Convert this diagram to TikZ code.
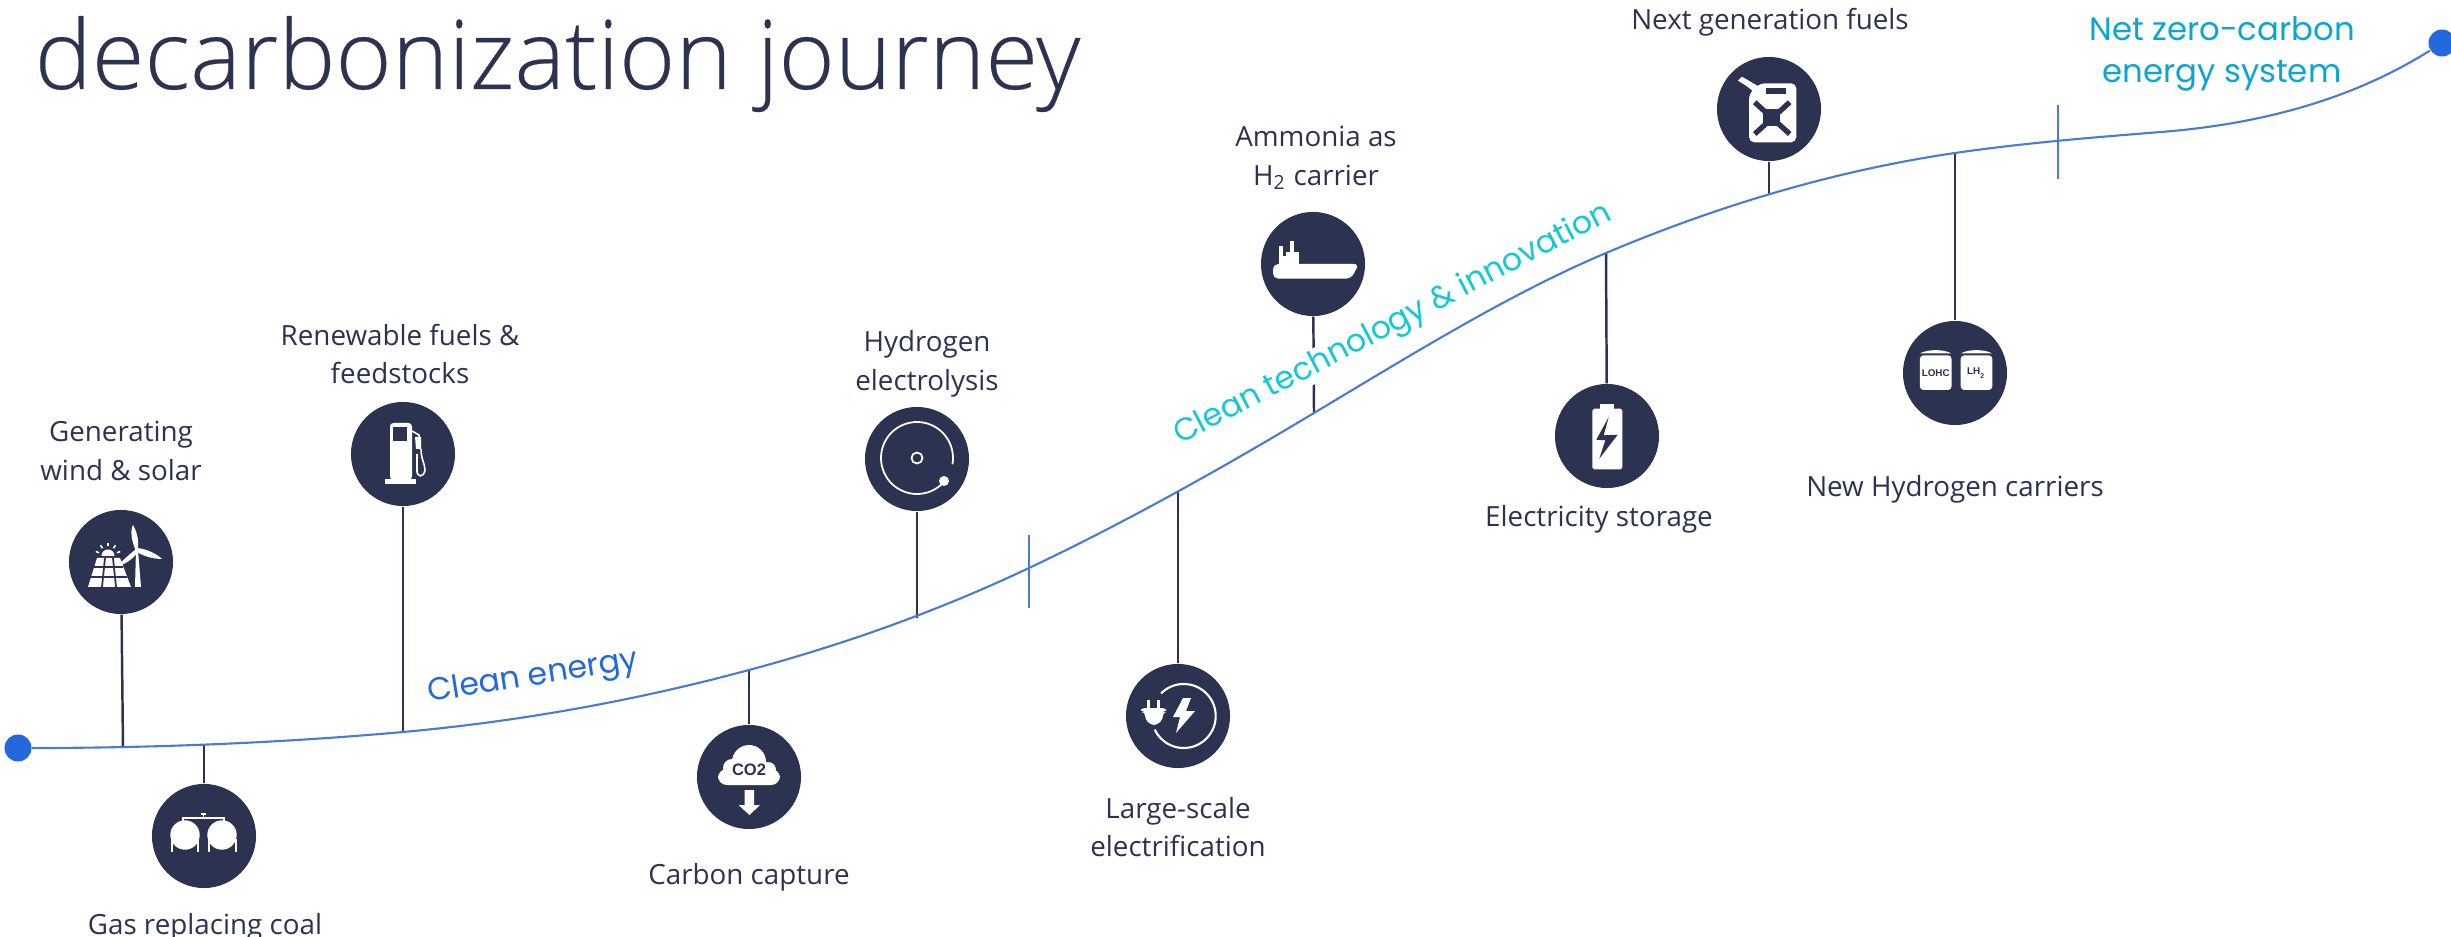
\documentclass[tikz,border=0pt]{standalone}
\usepackage{fontspec}
\setmainfont{Open Sans}
\setsansfont{Liberation Sans}
\newfontfamily\titlefont[FakeBold=0.25]{Open Sans Light}
\newfontfamily\phasefont{Poppins}
\definecolor{navy}{RGB}{43, 51, 80}
\definecolor{pathblue}{RGB}{74, 122, 214}
\definecolor{dotblue}{RGB}{36, 104, 222}
\definecolor{teal}{RGB}{20, 200, 212}
\definecolor{sky}{RGB}{10, 165, 213}

\begin{document}
\begin{tikzpicture}[x=0.01cm, y=-0.01cm,
    badge/.style={circle, fill=navy, minimum size=1.04cm, inner sep=0},
    endpoint/.style={circle, fill=dotblue, minimum size=0.27cm, inner sep=0},
    stem/.style={draw=navy, line width=0.7pt},
    tick/.style={draw=pathblue, line width=0.5pt},
    caption/.style={text=navy, align=center, inner sep=0, font=\fontsize{7.9}{11}\selectfont},
    phase/.style={inner sep=0, font=\phasefont\fontsize{9}{9}\selectfont},
    icontext/.style={text=navy, inner sep=0},
    whiteline/.style={draw=white, line width=0.45pt}]
  \useasboundingbox (0, 0) rectangle (2451, 937);

  % Title
  \node[text=navy, anchor=base west, inner sep=0, font=\titlefont\fontsize{27.3}{27.3}\selectfont] (title) at (34, 89) {decarbonization journey};

  % Points on the path
  \coordinate (footwind) at (123, 748);
  \coordinate (footgas) at (204, 744);
  \coordinate (footpump) at (403, 732);
  \coordinate (footco) at (749, 670);
  \coordinate (footelectrolysis) at (917, 618);
  \coordinate (phaseone) at (1029, 568);
  \coordinate (footplug) at (1178, 491);
  \coordinate (footship) at (1314, 413);
  \coordinate (footbattery) at (1606, 253);
  \coordinate (footcan) at (1769, 194);
  \coordinate (foottanks) at (1955, 153);
  \coordinate (phasetwo) at (2058, 140);
  \coordinate (plateau) at (2161, 132);

  % Badges
  \node[badge] (wind) at (121, 562) {};
  \node[badge] (gas) at (204, 836) {};
  \node[badge] (pump) at (403, 454) {};
  \node[badge] (co) at (749, 777) {};
  \node[badge] (electrolysis) at (917, 459) {};
  \node[badge] (plug) at (1178, 716) {};
  \node[badge] (ship) at (1313, 264) {};
  \node[badge] (battery) at (1607, 436) {};
  \node[badge] (can) at (1769, 109) {};
  \node[badge] (tanks) at (1955, 373) {};

  % Stems
  \foreach \i/\j in {wind/footwind, gas/footgas, pump/footpump, co/footco, electrolysis/footelectrolysis, plug/footplug, ship/footship, battery/footbattery, can/footcan, tanks/foottanks} {
    \draw[stem] (\i) -- (\j);
  }

  % Phases
  \node[phase, text=dotblue, rotate=9] (cleanenergy) at (533, 678) {Clean energy};
  \node[phase, text=teal, rotate=27.5, fill=white] (cleantech) at (1393, 325) {Clean technology \& innovation};
  \node[phase, text=sky, align=center, font=\phasefont\fontsize{9.2}{12}\selectfont] (netzero) at (2222, 54) {Net zero-carbon\\energy system};

  % The path
  \node[endpoint] (start) at (18, 748) {};
  \node[endpoint] (end) at (2442, 43) {};
  \draw[draw=pathblue, line width=0.6pt] (start)
    .. controls (146, 748) and (275, 743.5) .. (footpump)
    .. controls (518, 721.6) and (634, 701) .. (footco)
    .. controls (842, 645) and (936, 612) .. (phaseone)
    .. controls (1124, 523) and (1219, 470) .. (footship)
    .. controls (1411, 355) and (1509, 294) .. (footbattery)
    .. controls (1722, 204) and (1839, 170) .. (foottanks)
    .. controls (2024, 143) and (2092, 137.5) .. (plateau)
    .. controls (2255, 124.5) and (2348, 102) .. (end);

  % Ticks
  \coordinate (phaseonetop) at (1029, 535);
  \coordinate (phaseonebottom) at (1029, 608);
  \coordinate (phasetwotop) at (2058, 105);
  \coordinate (phasetwobottom) at (2058, 179);
  \draw[tick] (phaseonetop) -- (phaseonebottom);
  \draw[tick] (phasetwotop) -- (phasetwobottom);

  % Captions
  \node[caption] (windtext) at (121, 451) {Generating\\wind \& solar};
  \node[caption] (pumptext) at (400, 354) {Renewable fuels \&\\feedstocks};
  \node[caption] (gastext) at (205, 927) {Gas replacing coal};
  \node[caption] (cotext) at (749, 877) {Carbon capture};
  \node[caption] (electrolysistext) at (927, 364) {Hydrogen\\electrolysis};
  \node[caption] (plugtext) at (1178, 827) {Large-scale\\electrification};
  \node[caption] (shiptext) at (1316, 158) {Ammonia as\\H\textsubscript{2} carrier};
  \node[caption] (batterytext) at (1599, 519) {Electricity storage};
  \node[caption] (cantext) at (1770, 22) {Next generation fuels};
  \node[caption] (tankstext) at (1955, 489) {New Hydrogen carriers};

  % Wind and solar
  \begin{scope}[shift={(wind)}]
    \fill[white] (-24, -4) -- (-1, -4) -- (10, 25) -- (-33, 25) -- cycle;
    \draw[navy, line width=0.5pt] (-27, 5) -- (2, 5) (-30, 15) -- (6, 15) (-16, -4) -- (-19, 25) (-8, -4) -- (-5, 25);
    \fill[white] plot[domain=180:360, samples=20] ({-13 + 6.5 * cos(\x)}, {-6 + 6.5 * sin(\x)}) -- cycle;
    \foreach \i in {200, 235, 270, 305, 340} {
      \draw[whiteline] ({-13 + 9.5 * cos(\i)}, {-6 + 9.5 * sin(\i)}) -- ({-13 + 13 * cos(\i)}, {-6 + 13 * sin(\i)});
    }
    \fill[white] (14, 25) -- (20, 25) -- (17, -12) -- (15, -12) -- cycle;
    \fill[white] (15, -11) .. controls (9, -24) and (10, -34) .. (12, -37) .. controls (16, -30) and (18, -22) .. (17, -12) -- cycle;
    \fill[white] (16, -14) .. controls (26, -13) and (36, -8) .. (41, -3) .. controls (32, -3) and (22, -6) .. (16, -10) -- cycle;
    \fill[white] (15, -13) .. controls (9, -8) and (1, -1) .. (-4, 4) .. controls (4, 3) and (13, -4) .. (17, -10) -- cycle;
  \end{scope}

  % Gas tanks
  \begin{scope}[shift={(gas)}]
    \fill[white] (-19, -1) circle (14.7);
    \fill[white] (18, -1) circle (14.7);
    \foreach \i in {-32, -6, 5, 32} {
      \draw[whiteline] (\i, 3) -- (\i, 16);
    }
    \draw[whiteline] (-21, -14) -- (-21, -18) -- (20, -18) -- (20, -14);
    \draw[whiteline] (-0.5, -18) -- (-0.5, -22) (-3, -22) -- (2, -22);
  \end{scope}

  % Fuel pump
  \begin{scope}[shift={(pump)}]
    \fill[white, rounded corners=1pt] (-13, 26) -- (-13, -31) -- (9, -31) -- (9, 26) -- cycle;
    \fill[navy] (-10, -27) rectangle (4, -13);
    \fill[white] (-18, 25) rectangle (13, 30);
    \draw[whiteline] (9, -23) -- (16, -19) -- (17, -5) (14, 0) -- (14, 15) .. controls (13, 24) and (21, 24) .. (22, 16) .. controls (22, 10) and (18, 5) .. (18, -5);
    \fill[white] (12, -17) -- (18, -17) -- (18, -5) -- (13, -5) -- cycle;
  \end{scope}

  % Cloud with CO2
  \begin{scope}[shift={(co)}]
    \fill[white] (0, -15) circle (17);
    \fill[white] (-17, -9) circle (9);
    \fill[white] (19, -7) circle (8);
    \fill[white, rounded corners=2.5pt] (-31, -8) rectangle (31, 8);
    \node[icontext, font=\sffamily\bfseries\fontsize{4.7}{4.7}\selectfont] (cotag) at (0, -7) {CO2};
    \fill[white] (-4.5, 13) -- (5, 13) -- (5, 28) -- (11, 28) -- (0.5, 38) -- (-10.5, 28) -- (-4.5, 28) -- cycle;
  \end{scope}

  % Electrolysis
  \begin{scope}[shift={(electrolysis)}]
    \draw[draw=white, line width=0.5pt] plot[domain=45:370, samples=60] ({36 * cos(\x)}, {-1 + 36 * sin(\x)});
    \draw[draw=white, line width=0.5pt] (0, -1) circle (5.5);
    \fill[white] (27, 22) circle (5);
  \end{scope}

  % Plug with bolt
  \begin{scope}[shift={(plug)}]
    \draw[draw=white, line width=0.6pt] plot[domain=-135:155, samples=60] ({5.7 + 32 * cos(\x)}, {32 * sin(\x)});
    \fill[white, rounded corners=1pt] (-37, -8) -- (-12, -8) -- (-12, -4) -- (-15, -4) -- (-15, 3) -- (-21, 9) -- (-27, 9) -- (-33, 3) -- (-33, -4) -- (-37, -4) -- cycle;
    \fill[white] (-31, -16) rectangle (-28, -8);
    \fill[white] (-21, -16) rectangle (-18, -8);
    \fill[white] (5, -18) -- (13, -18) -- (8, -5) -- (17, -5) -- (-2, 17) -- (2, 1) -- (-5, 1) -- cycle;
  \end{scope}

  % Ship
  \begin{scope}[shift={(ship)}]
    \fill[white, rounded corners=1.5pt] (-40, 0) -- (46, 0) -- (38, 14.7) -- (-40, 14.7) -- cycle;
    \fill[white] (-30, -8) rectangle (-14.3, 0);
    \fill[white] (-33.7, -17.7) rectangle (-30, 0);
    \fill[white] (-23, -23.3) rectangle (-18.7, -8);
    \fill[white] (-27, -11.7) rectangle (-14.3, -8);
  \end{scope}

  % Battery
  \begin{scope}[shift={(battery)}]
    \fill[white, rounded corners=0.5pt] (-14.7, -27.3) rectangle (15.3, 33.3);
    \fill[white] (-6.7, -32) rectangle (6.7, -27.3);
    \fill[navy] (1.7, -19) -- (-3.3, -0.7) -- (10.7, -1.3) -- (-7.7, 22.7) -- (-1.7, 4.3) -- (-10.7, 3.7) -- cycle;
  \end{scope}

  % Fuel can
  \begin{scope}[shift={(can)}]
    \fill[white, rounded corners=1.5pt] (-20, -15) -- (-9, -25.7) -- (27.3, -25.7) -- (27.3, 33.3) -- (-20, 33.3) -- cycle;
    \fill[white] (-31, -28.3) -- (-27, -32.3) -- (-10, -22.3) -- (-14.3, -16.7) -- (-24, -24) -- cycle;
    \fill[navy] (-3.3, -20.7) rectangle (17.3, -15);
    \draw[navy, line width=1.5pt] (-14.3, -6.7) -- (20.7, 25) (20.7, -6.7) -- (-14.3, 25);
    \fill[navy] (-6, 0) rectangle (10.7, 16.7);
  \end{scope}

  % LOHC and LH2 tanks
  \begin{scope}[shift={(tanks)}]
    \foreach \i in {-19.3, 21.5} {
      \fill[white, rounded corners=1pt] ({\i - 15.8}, -17.7) rectangle ({\i + 15.8}, 17);
      \fill[white] ({\i - 15.8}, -19.5) .. controls ({\i - 8}, -24) and ({\i + 8}, -24) .. ({\i + 15.8}, -19.5) -- cycle;
    }
    \node[icontext, font=\sffamily\bfseries\fontsize{2.8}{2.8}\selectfont] (lohctag) at (-19.3, 0) {LOHC};
    \node[icontext, font=\sffamily\bfseries\fontsize{2.8}{2.8}\selectfont] (lhtag) at (21.5, 0) {LH\textsubscript{2}};
  \end{scope}
\end{tikzpicture}
\end{document}
